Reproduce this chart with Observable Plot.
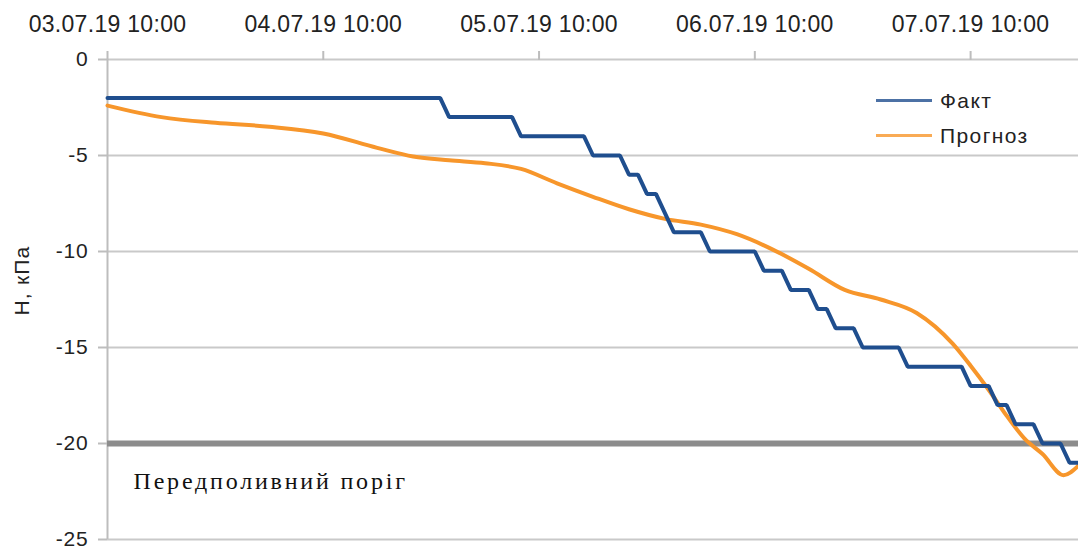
<!DOCTYPE html>
<html>
<head>
<meta charset="utf-8">
<script src="https://cdn.jsdelivr.net/npm/d3@7"></script>
<script src="https://cdn.jsdelivr.net/npm/@observablehq/plot@0.6"></script>
<style>
  html, body { margin: 0; padding: 0; background: #fff; }
  #wrap { position: relative; width: 1078px; height: 549px; overflow: hidden; }
  svg text { letter-spacing: 0.8px; }
  g[aria-label="x-axis tick label"] text { letter-spacing: 0.3px; }
  #legend { position: absolute; left: 876px; top: 83px; font-family: "Liberation Sans", Arial, sans-serif; font-size: 21px; color: #222; letter-spacing: 1.4px; }
  .item { display: flex; align-items: center; height: 35px; }
  .sw { display: inline-block; width: 56px; height: 3px; margin-right: 8px; }
</style>
</head>
<body>
<div id="wrap"></div>
<script>
// ---- data ----
const factTimes = [
  "2019-07-03T10:00","2019-07-04T23:00","2019-07-05T00:00","2019-07-05T07:00",
  "2019-07-05T08:00","2019-07-05T15:00","2019-07-05T16:00","2019-07-05T19:00",
  "2019-07-05T20:00","2019-07-05T21:00","2019-07-05T22:00","2019-07-05T23:00",
  "2019-07-06T01:00","2019-07-06T04:00","2019-07-06T05:00","2019-07-06T10:00",
  "2019-07-06T11:00","2019-07-06T13:00","2019-07-06T14:00","2019-07-06T16:00",
  "2019-07-06T17:00","2019-07-06T18:00","2019-07-06T19:00","2019-07-06T21:00",
  "2019-07-06T22:00","2019-07-07T02:00","2019-07-07T03:00","2019-07-07T09:00",
  "2019-07-07T10:00","2019-07-07T12:00","2019-07-07T13:00","2019-07-07T14:00",
  "2019-07-07T15:00","2019-07-07T17:00","2019-07-07T18:00","2019-07-07T20:00",
  "2019-07-07T21:00","2019-07-07T23:00"
];
const factValues = [
  -2,-2,-3,-3,
  -4,-4,-5,-5,
  -6,-6,-7,-7,
  -9,-9,-10,-10,
  -11,-11,-12,-12,
  -13,-13,-14,-14,
  -15,-15,-16,-16,
  -17,-17,-18,-18,
  -19,-19,-20,-20,
  -21,-21
];
const forecastTimes = [
  "2019-07-03T10:00","2019-07-03T16:00","2019-07-03T22:00","2019-07-04T04:00",
  "2019-07-04T10:00","2019-07-04T16:00","2019-07-04T20:00","2019-07-05T00:00",
  "2019-07-05T04:00","2019-07-05T08:00","2019-07-05T12:00","2019-07-05T16:00",
  "2019-07-05T20:00","2019-07-06T00:00","2019-07-06T04:00","2019-07-06T08:00",
  "2019-07-06T12:00","2019-07-06T16:00","2019-07-06T20:00","2019-07-07T00:00",
  "2019-07-07T04:00","2019-07-07T08:00","2019-07-07T10:00","2019-07-07T12:00",
  "2019-07-07T14:00","2019-07-07T16:00","2019-07-07T18:00","2019-07-07T20:20",
  "2019-07-07T22:00"
];
const forecastValues = [
  -2.4,-3.0,-3.3,-3.5,
  -3.85,-4.6,-5.05,-5.25,
  -5.4,-5.7,-6.45,-7.15,
  -7.8,-8.3,-8.6,-9.1,
  -9.9,-10.9,-12.0,-12.5,
  -13.2,-14.8,-15.95,-17.2,
  -18.55,-19.75,-20.55,-21.65,
  -21.15
];
const xTickLabels = ["2019-07-03T10:00","2019-07-04T10:00","2019-07-05T10:00","2019-07-06T10:00","2019-07-07T10:00"];
const yTicks = [0,-5,-10,-15,-20,-25];
const gridValues = [0,-5,-10,-15,-25];
const threshold = -20;
const thresholdLabel = "Передполивний поріг";
const yLabel = "Н, кПа";
const seriesNames = ["Факт","Прогноз"];
const domainStart = "2019-07-03T10:00";
const domainEnd = "2019-07-07T22:00";

// ---- build ----
const parse = s => new Date(s + "Z");
const fact = factTimes.map((t, i) => ({t: parse(t), v: factValues[i]}));
const forecast = forecastTimes.map((t, i) => ({t: parse(t), v: forecastValues[i]}));
const start = parse(domainStart), end = parse(domainEnd);
const blue = "#1f4e8e", orange = "#f7962b";
const sans = "'Liberation Sans', Arial, sans-serif";

const chart = Plot.plot({
  width: 1078, height: 549,
  marginLeft: 107, marginRight: 0, marginTop: 59, marginBottom: 10,
  x: {type: "utc", domain: [start, end]},
  y: {domain: [-25, 0]},
  style: {fontFamily: sans, fontSize: "21px", background: "#fff", color: "#222"},
  marks: [
    Plot.ruleY(gridValues, {stroke: "#c9c9c9", strokeWidth: 2}),
    Plot.ruleX([start], {stroke: "#bdbdbd", strokeWidth: 2}),
    Plot.axisX({anchor: "top", ticks: xTickLabels.map(parse), tickFormat: d3.utcFormat("%d.%m.%y %H:%M"),
      tickSize: 9, tickPadding: 19, stroke: "#bdbdbd", strokeWidth: 2, fill: "#222", fontSize: 23, label: null}),
    Plot.axisY({ticks: yTicks, tickFormat: d => String(d), tickSize: 9, tickPadding: 10,
      stroke: "#bdbdbd", strokeWidth: 2, fill: "#222", fontSize: 21, label: null}),
    Plot.ruleY([threshold], {stroke: "#8c8c8c", strokeWidth: 6}),
    Plot.text([yLabel], {frameAnchor: "left", textAnchor: "middle", rotate: -90, dx: -85, dy: -19, fontSize: 21, fill: "#222"}),
    Plot.text([{t: start, v: threshold, label: thresholdLabel}], {x: "t", y: "v", text: "label",
      textAnchor: "start", dx: 26, dy: 38, fontFamily: "'Liberation Serif', 'Times New Roman', serif", fontSize: 24, fill: "#111"}),
    Plot.line(forecast, {x: "t", y: "v", stroke: orange, strokeWidth: 4, curve: "monotone-x"}),
    Plot.line(fact, {x: "t", y: "v", stroke: blue, strokeWidth: 4, strokeLinejoin: "miter"})
  ]
});
const wrap = document.getElementById("wrap");
wrap.appendChild(chart);
const textGroups = chart.querySelectorAll('g[aria-label="text"]');
if (textGroups[0]) textGroups[0].querySelectorAll("text").forEach(t => t.style.letterSpacing = "1.2px");
if (textGroups[1]) textGroups[1].querySelectorAll("text").forEach(t => t.style.letterSpacing = "2.8px");

const legend = document.createElement("div");
legend.id = "legend";
const colors = [blue, orange];
seriesNames.forEach((n, i) => {
  const it = document.createElement("div");
  it.className = "item";
  const sw = document.createElement("span");
  sw.className = "sw";
  sw.style.background = colors[i];
  sw.style.opacity = 0.8;
  it.appendChild(sw);
  it.appendChild(document.createTextNode(n));
  legend.appendChild(it);
});
wrap.appendChild(legend);
</script>
</body>
</html>
